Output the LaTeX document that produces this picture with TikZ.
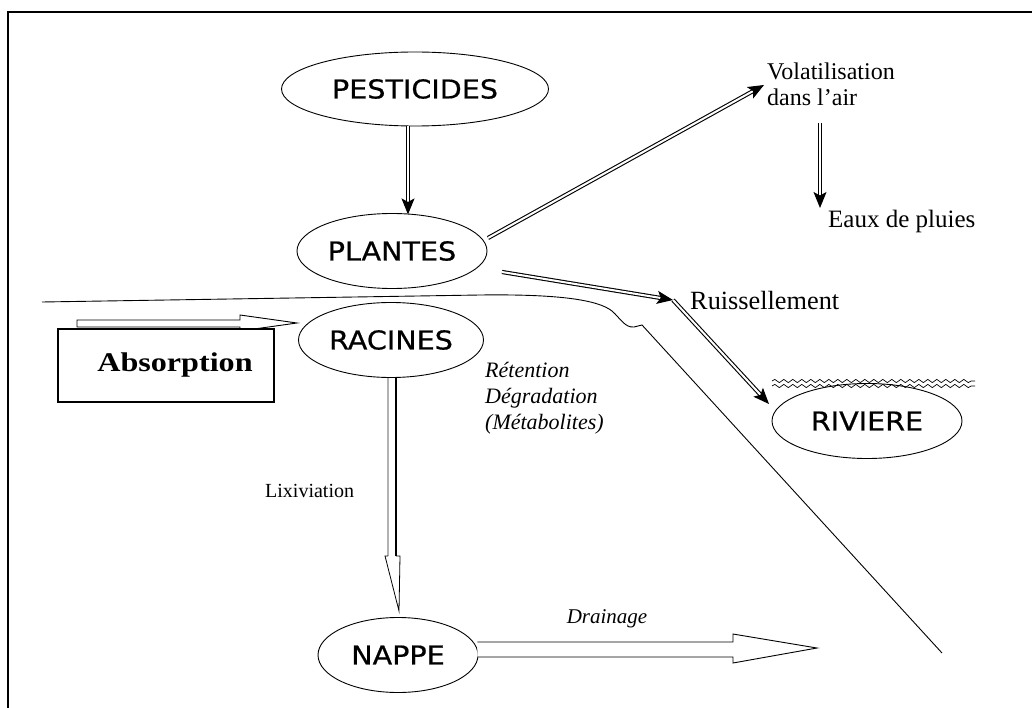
\documentclass[tikz,border=0pt]{standalone}
\usepackage{fontspec}
\setmainfont{Liberation Serif}
\newfontfamily\capsfont[FakeBold=0.6]{DejaVu Sans}
\newfontfamily\timesfont{Liberation Serif}
\usetikzlibrary{arrows.meta,shapes.geometric,decorations.pathmorphing,calc}
\newcommand{\capw}[1]{\scalebox{1.1}[1]{#1}}
\begin{document}
\begin{tikzpicture}[x=1pt,y=-1pt,
  ell/.style={draw, ellipse, line width=0.9pt, inner sep=0pt, font=\capsfont\fontsize{26}{30}\selectfont},
  lbl/.style={inner sep=0pt, font=\fontsize{25}{26}\selectfont},
  ilbl/.style={inner sep=0pt, font=\itshape\fontsize{22}{26}\selectfont},
  dbl/.style={double, double distance=2pt, line width=1.1pt, -{Stealth[length=16pt,width=13pt,inset=3.5pt]}},
  hollow/.style={draw, line width=0.9pt, fill=white, line join=miter},
  wave/.style={line width=0.7pt, decorate, decoration={snake, amplitude=1.6pt, segment length=9pt}}
]
\useasboundingbox (0,0) rectangle (1032,708);
% frame
\draw[line width=2pt] (8,708) -- (8,12) -- (1032,12);

% ground line
\draw[line width=0.9pt] (42,302) -- (480,295) .. controls (560,294) and (598,300) .. (612,311)
  .. controls (620,318) and (625,328) .. (634,327) -- (642,325) -- (942,653);

% nodes
\node[ell, minimum width=267, minimum height=74] (pest) at (415,89) {\capw{PESTICIDES}};
\node[ell, minimum width=190, minimum height=75] (plantes) at (392,251) {\capw{PLANTES}};
\node[ell, minimum width=185, minimum height=75] (racines) at (391,340) {\capw{RACINES}};
\node[ell, minimum width=190, minimum height=75] (riviere) at (867,421) {\capw{RIVIERE}};
\node[ell, minimum width=160, minimum height=75] (nappe) at (398,655) {\capw{NAPPE}};

\node[lbl, anchor=west, align=left, font=\fontsize{24}{26}\selectfont] (vol) at (767,84) {Volatilisation\\dans l'air};
\node[lbl, anchor=west] (eaux) at (828,221) {Eaux de pluies};
\node[lbl, anchor=west, font=\fontsize{26.3}{28}\selectfont] (ruis) at (690,301) {Ruissellement};
\node[ilbl, anchor=west, align=left] (ret) at (485,398) {Rétention\\Dégradation\\(Métabolites)};
\node[lbl, anchor=west, font=\fontsize{20}{24}\selectfont] (lix) at (265,491) {Lixiviation};
\node[ilbl, anchor=center, font=\itshape\fontsize{21}{24}\selectfont] (drain) at (607,619) {Drainage};

% double arrows
\coordinate (volTip) at (764,85);
\coordinate (plStart) at (488,238);
\draw[dbl] (plStart) -- (volTip);
\coordinate (eauxTop) at (820,123);
\coordinate (eauxTip) at (820,208);
\draw[dbl] (eauxTop) -- (eauxTip);
\draw[dbl] ($(pest.south)+(-7,0)$) -- ($(pest.south)+(-7,88)$);
\coordinate (ruS) at (502,272);
\coordinate (ruM) at (673,300);
\coordinate (ruE) at (769,404);
\draw[dbl] (ruS) -- (ruM);
\draw[dbl] (ruM) -- (ruE);

% wavy water surface
\draw[wave] (772,381) -- (975,381);
\draw[wave] (772,386) -- (975,386);

% Lixiviation arrow (racines -> nappe)
\coordinate (lxTip) at (399,611);
\draw[gray!60, line width=1.2pt] ($(racines.south)+(-3,0)$) -- ($(racines.south)+(-3,178)$);
\draw[line width=1.2pt] ($(racines.south)+(5,0)$) -- ($(racines.south)+(5,178)$);
\draw[line width=0.8pt] ($(racines.south)+(-3,178)$) -- ($(racines.south)+(-6,178)$) -- (lxTip) -- ($(racines.south)+(9,178)$) -- ($(racines.south)+(5,178)$);

% Drainage hollow arrow
\coordinate (drTip) at (817,648);
\draw[hollow] ($(nappe.east |- drTip)+(-1,-6)$) -- (733,642) -- (733,634) -- (drTip) -- (733,663) -- (733,657) -- ($(nappe.east |- drTip)+(-1,9)$);

% Absorption arrow and box
\coordinate (abTip) at (297,323);
\draw[hollow] (77,320) -- (240,320) -- (240,315) -- (abTip) -- (240,331) -- (240,327) -- (77,327) -- cycle;
\node[draw, line width=1.3pt, fill=white, minimum width=216, minimum height=73, inner sep=0pt,
  font=\timesfont\bfseries\fontsize{27}{30}\selectfont] (abs) at (166,365.5) {\hspace*{18pt}\scalebox{1.19}[1]{Absorption}};
\end{tikzpicture}
\end{document}
